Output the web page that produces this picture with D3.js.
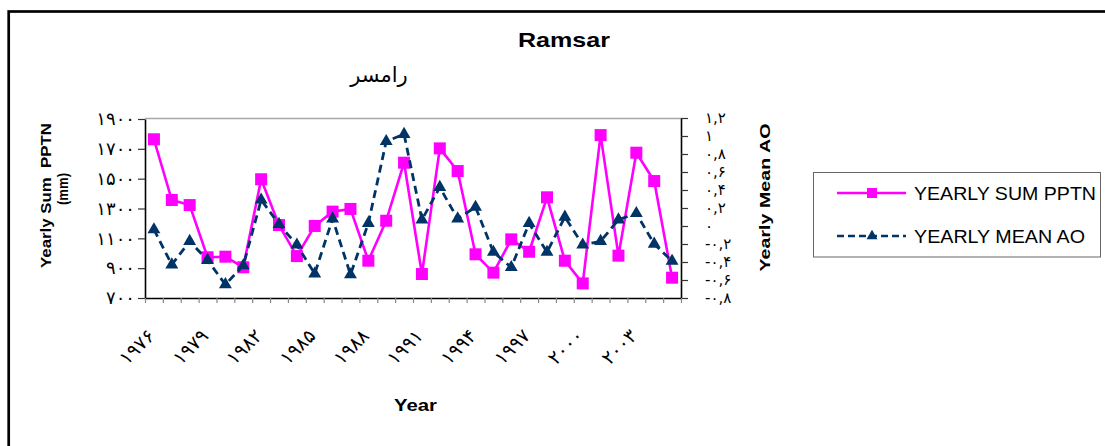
<!DOCTYPE html>
<html>
<head>
<meta charset="utf-8">
<script src="https://cdn.jsdelivr.net/npm/d3@7"></script>
<style>
  html, body { margin: 0; padding: 0; background: #fff; }
  svg { display: block; }
</style>
</head>
<body>
<svg id="chart" width="1105" height="446"></svg>
<script>
// Yearly precipitation totals and yearly mean Arctic Oscillation index, Ramsar station
const years = [1976, 1977, 1978, 1979, 1980, 1981, 1982, 1983, 1984, 1985,
               1986, 1987, 1988, 1989, 1990, 1991, 1992, 1993, 1994, 1995,
               1996, 1997, 1998, 1999, 2000, 2001, 2002, 2003, 2004, 2005];

const pptn = [1764, 1357, 1323, 973, 977, 906, 1496, 1189, 981, 1183,
              1279, 1297, 950, 1218, 1607, 861, 1703, 1551, 993, 870,
              1093, 1010, 1375, 950, 798, 1792, 984, 1674, 1484, 836];

const ao = [-0.04, -0.43, -0.17, -0.38, -0.65, -0.44, 0.29, 0.02, -0.21, -0.53,
            0.08, -0.54, 0.03, 0.94, 1.02, 0.07, 0.43, 0.08, 0.21, -0.29,
            -0.46, 0.03, -0.29, 0.10, -0.21, -0.17, 0.07, 0.14, -0.20, -0.39];

// Axis ticks and their Persian-digit labels
const leftTicks = [700, 900, 1100, 1300, 1500, 1700, 1900];
const leftTickLabels = ["۷۰۰", "۹۰۰", "۱۱۰۰", "۱۳۰۰", "۱۵۰۰", "۱۷۰۰", "۱۹۰۰"];

const rightTicks = [-0.8, -0.6, -0.4, -0.2, 0, 0.2, 0.4, 0.6, 0.8, 1, 1.2];
const rightTickLabels = ["-۰,۸", "-۰,۶", "-۰,۴", "-۰,۲", "۰", "۰,۲", "۰,۴", "۰,۶", "۰,۸", "۱", "۱,۲"];

const xLabelYears = [1976, 1979, 1982, 1985, 1988, 1991, 1994, 1997, 2000, 2003];
const xTickLabels = ["۱۹۷۶", "۱۹۷۹", "۱۹۸۲", "۱۹۸۵", "۱۹۸۸", "۱۹۹۱", "۱۹۹۴", "۱۹۹۷", "۲۰۰۰", "۲۰۰۳"];

const seriesNames = ["YEARLY SUM PPTN", "YEARLY MEAN AO"];

// ---- layout ----
const plot = { left: 145, right: 681, top: 118.5, bottom: 298 };
const PINK = "#ff00ff";
const NAVY = "#003366";
const svg = d3.select("#chart");

// outer chart frame
svg.append("rect")
  .attr("x", 8.7).attr("y", 11.5)
  .attr("width", 1200).attr("height", 600)
  .attr("fill", "none").attr("stroke", "#000").attr("stroke-width", 2.7);

// ---- scales ----
const x = d3.scaleBand().domain(years).range([plot.left, plot.right]).padding(0);
const cx = d => x(d) + x.bandwidth() / 2;
const yL = d3.scaleLinear().domain([700, 1900]).range([plot.bottom, 119]);
const yR = d3.scaleLinear().domain([-0.8, 1.2]).range([plot.bottom, 118]);
const xEdge = d3.scaleLinear().domain([0, years.length]).range([plot.left, plot.right]);

// plot area top border
svg.append("line")
  .attr("x1", plot.left).attr("x2", plot.right)
  .attr("y1", plot.top).attr("y2", plot.top)
  .attr("stroke", "#a8a8a8").attr("stroke-width", 1.5);

// ---- axes ----
const tickFont = "'DejaVu Sans', sans-serif";

const gL = svg.append("g").attr("transform", `translate(${plot.left},0)`)
  .call(d3.axisLeft(yL).tickValues(leftTicks)
    .tickFormat((d, i) => leftTickLabels[i]).tickSize(7).tickSizeOuter(0).tickPadding(3));
gL.select(".domain").attr("stroke", "#000").attr("stroke-width", 1.6);
gL.selectAll(".tick line").attr("stroke", "#333").attr("stroke-width", 1.2);
gL.selectAll(".tick text").attr("font-family", tickFont).attr("font-size", 18).attr("fill", "#000");

const gR = svg.append("g").attr("transform", `translate(${plot.right},0)`)
  .call(d3.axisRight(yR).tickValues(rightTicks)
    .tickFormat((d, i) => rightTickLabels[i]).tickSize(7).tickSizeOuter(0).tickPadding(17));
gR.select(".domain").attr("stroke", "#000").attr("stroke-width", 1.6);
gR.selectAll(".tick line").attr("stroke", "#333").attr("stroke-width", 1.2);
gR.selectAll(".tick text").attr("font-family", tickFont).attr("font-size", 15)
  .attr("fill", "#000").attr("direction", "ltr");

const gB = svg.append("g").attr("transform", `translate(0,${plot.bottom})`)
  .call(d3.axisBottom(xEdge).tickValues(d3.range(years.length + 1))
    .tickFormat("").tickSize(5).tickSizeOuter(0));
gB.select(".domain").attr("stroke", "#000").attr("stroke-width", 1.6);
gB.selectAll(".tick line").attr("stroke", "#888").attr("stroke-width", 1.2);

// rotated year labels
svg.append("g").selectAll("text")
  .data(xLabelYears)
  .join("text")
  .attr("transform", d => `translate(${cx(d) + 2},${plot.bottom + 39}) rotate(-45)`)
  .attr("text-anchor", "end")
  .attr("direction", "ltr")
  .attr("font-family", tickFont)
  .attr("font-size", 19)
  .text((d, i) => xTickLabels[i]);

// ---- series ----
const linePP = d3.line().x((d, i) => cx(years[i])).y(d => yL(d));
const lineAO = d3.line().x((d, i) => cx(years[i])).y(d => yR(d));

svg.append("path").datum(pptn)
  .attr("d", linePP).attr("fill", "none")
  .attr("stroke", PINK).attr("stroke-width", 2.6).attr("stroke-linejoin", "round");

const sq = 12;
svg.append("g").selectAll("rect")
  .data(pptn)
  .join("rect")
  .attr("x", (d, i) => cx(years[i]) - sq / 2)
  .attr("y", d => yL(d) - sq / 2)
  .attr("width", sq).attr("height", sq)
  .attr("fill", PINK);

svg.append("path").datum(ao)
  .attr("d", lineAO).attr("fill", "none")
  .attr("stroke", NAVY).attr("stroke-width", 2.8)
  .attr("stroke-dasharray", "8,5");

const tri = d3.symbol().type(d3.symbolTriangle).size(72);
svg.append("g").selectAll("path")
  .data(ao)
  .join("path")
  .attr("d", tri)
  .attr("transform", (d, i) => `translate(${cx(years[i])},${yR(d)})`)
  .attr("fill", NAVY);

// ---- titles ----
svg.append("text")
  .attr("x", 564).attr("y", 47)
  .attr("text-anchor", "middle")
  .attr("font-family", "'Liberation Sans', Arial, sans-serif")
  .attr("font-weight", "bold").attr("font-size", 21)
  .attr("textLength", 92).attr("lengthAdjust", "spacingAndGlyphs")
  .text("Ramsar");

svg.append("text")
  .attr("x", 379).attr("y", 82)
  .attr("text-anchor", "middle")
  .attr("direction", "rtl")
  .attr("font-family", "'DejaVu Serif', 'DejaVu Sans', serif")
  .attr("font-size", 21)
  .text("رامسر");

const axisTitleFont = "'Liberation Sans', Arial, sans-serif";

svg.append("text")
  .attr("transform", "translate(51,195.5) rotate(-90)")
  .attr("text-anchor", "middle")
  .attr("font-family", axisTitleFont).attr("font-weight", "bold").attr("font-size", 15)
  .attr("textLength", 145).attr("lengthAdjust", "spacingAndGlyphs")
  .attr("xml:space", "preserve")
  .text("Yearly Sum  PPTN");

svg.append("text")
  .attr("transform", "translate(68,189) rotate(-90)")
  .attr("text-anchor", "middle")
  .attr("font-family", axisTitleFont).attr("font-weight", "bold").attr("font-size", 15)
  .attr("textLength", 32).attr("lengthAdjust", "spacingAndGlyphs")
  .text("(mm)");

svg.append("text")
  .attr("transform", "translate(770,197.5) rotate(-90)")
  .attr("text-anchor", "middle")
  .attr("font-family", axisTitleFont).attr("font-weight", "bold").attr("font-size", 15)
  .attr("textLength", 148).attr("lengthAdjust", "spacingAndGlyphs")
  .text("Yearly Mean AO");

svg.append("text")
  .attr("x", 415.5).attr("y", 411)
  .attr("text-anchor", "middle")
  .attr("font-family", axisTitleFont).attr("font-weight", "bold").attr("font-size", 17)
  .attr("textLength", 43).attr("lengthAdjust", "spacingAndGlyphs")
  .text("Year");

// ---- legend ----
const legend = svg.append("g");
legend.append("rect")
  .attr("x", 813.5).attr("y", 172.5)
  .attr("width", 287).attr("height", 84.5)
  .attr("fill", "#fff").attr("stroke", "#666").attr("stroke-width", 1);

const legendRows = [
  { y: 193, color: PINK, dash: null, marker: "square", textLen: 182 },
  { y: 236, color: NAVY, dash: "7,4", marker: "triangle", textLen: 171 }
];

legendRows.forEach((r, i) => {
  legend.append("line")
    .attr("x1", 837).attr("x2", 906)
    .attr("y1", r.y).attr("y2", r.y)
    .attr("stroke", r.color).attr("stroke-width", 2.6)
    .attr("stroke-dasharray", r.dash);
  if (r.marker === "square") {
    legend.append("rect")
      .attr("x", 867).attr("y", r.y - 5)
      .attr("width", 10).attr("height", 10)
      .attr("fill", r.color);
  } else {
    legend.append("path")
      .attr("d", d3.symbol().type(d3.symbolTriangle).size(52))
      .attr("transform", `translate(872,${r.y})`)
      .attr("fill", r.color);
  }
  legend.append("text")
    .attr("x", 914).attr("y", r.y + 6.7)
    .attr("font-family", "'Liberation Sans', Arial, sans-serif")
    .attr("font-size", 18.5)
    .attr("textLength", r.textLen).attr("lengthAdjust", "spacingAndGlyphs")
    .text(seriesNames[i]);
});
</script>
</body>
</html>
